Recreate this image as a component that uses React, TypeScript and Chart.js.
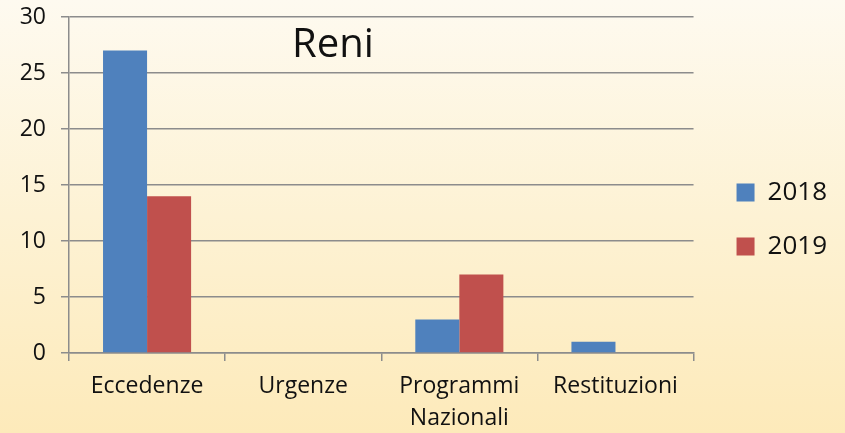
import React, { useEffect, useRef } from "react";
import { Chart, registerables } from "chart.js";

Chart.register(...registerables);

const categories: (string | string[])[] = ["Eccedenze", "Urgenze", ["Programmi", "Nazionali"], "Restituzioni"];
const series2018 = [27, 0, 3, 1];
const series2019 = [14, 0, 7, 0];
const yTicks = { min: 0, max: 30, step: 5 };
const chartTitle = "Reni";

export default function App() {
  const ref = useRef<HTMLCanvasElement | null>(null);

  useEffect(() => {
    if (!ref.current) return;
    const gridColor = "#8c8c8c";
    const chart = new Chart(ref.current, {
      type: "bar",
      data: {
        labels: categories,
        datasets: [
          { label: "2018", data: series2018, backgroundColor: "#4F81BD", borderWidth: 0, yAxisID: "y" },
          { label: "2019", data: series2019, backgroundColor: "#C0504D", borderWidth: 0, yAxisID: "y" },
        ],
      },
      options: {
        responsive: false,
        animation: false,
        maintainAspectRatio: false,
        layout: { padding: { top: 6, bottom: 0, left: 0, right: 8 } },
        datasets: { bar: { categoryPercentage: 88 / 156, barPercentage: 1 } },
        plugins: {
          title: { display: false },
          tooltip: { enabled: false },
          legend: {
            position: "right",
            labels: {
              boxWidth: 18,
              boxHeight: 18,
              padding: 28,
              color: "#111",
              font: { family: "'Open Sans'", size: 26 },
            },
          },
        },
        scales: {
          x: {
            grid: { offset: true, drawOnChartArea: false, drawTicks: true, tickLength: 8, color: gridColor, lineWidth: 1.5 },
            border: { display: true, color: gridColor, width: 1.5 },
            ticks: { color: "#111", padding: 9, font: { family: "'Open Sans'", size: 23, lineHeight: 32 / 23 }, maxRotation: 0 },
            afterFit: (s: any) => { s.height = 80; },
          },
          y: {
            position: "left",
            min: yTicks.min,
            max: yTicks.max,
            ticks: { stepSize: yTicks.step, color: "#111", padding: 15, font: { family: "'Open Sans'", size: 23 } },
            grid: { color: gridColor, lineWidth: 1.5, tickLength: 8, drawTicks: true },
            border: { display: true, color: gridColor, width: 1.5 },
            afterFit: (s: any) => { s.width = 69; s.paddingTop = 17; s.paddingBottom = 0; },
          },
          yR: {
            position: "right",
            display: true,
            grid: { display: false },
            border: { display: false },
            ticks: { display: false },
            afterFit: (s: any) => { s.width = 15; s.paddingTop = 0; s.paddingBottom = 0; },
          },
        },
      },
    });
    return () => chart.destroy();
  }, []);

  return (
    <div
      style={{
        position: "fixed",
        left: 0,
        top: 0,
        width: 845,
        height: 433,
        background: "linear-gradient(to bottom, #fefaf0 0%, #fdf2d4 50%, #fdeaba 100%)",
        overflow: "hidden",
      }}
    >
      <canvas ref={ref} width={845} height={433} style={{ position: "absolute", left: 0, top: 0 }} />
      <div
        style={{
          position: "absolute",
          left: 292,
          top: 22,
          fontFamily: "'Open Sans'",
          fontSize: 40,
          lineHeight: 1,
          color: "#111",
          whiteSpace: "nowrap",
        }}
      >
        {chartTitle}
      </div>
    </div>
  );
}
